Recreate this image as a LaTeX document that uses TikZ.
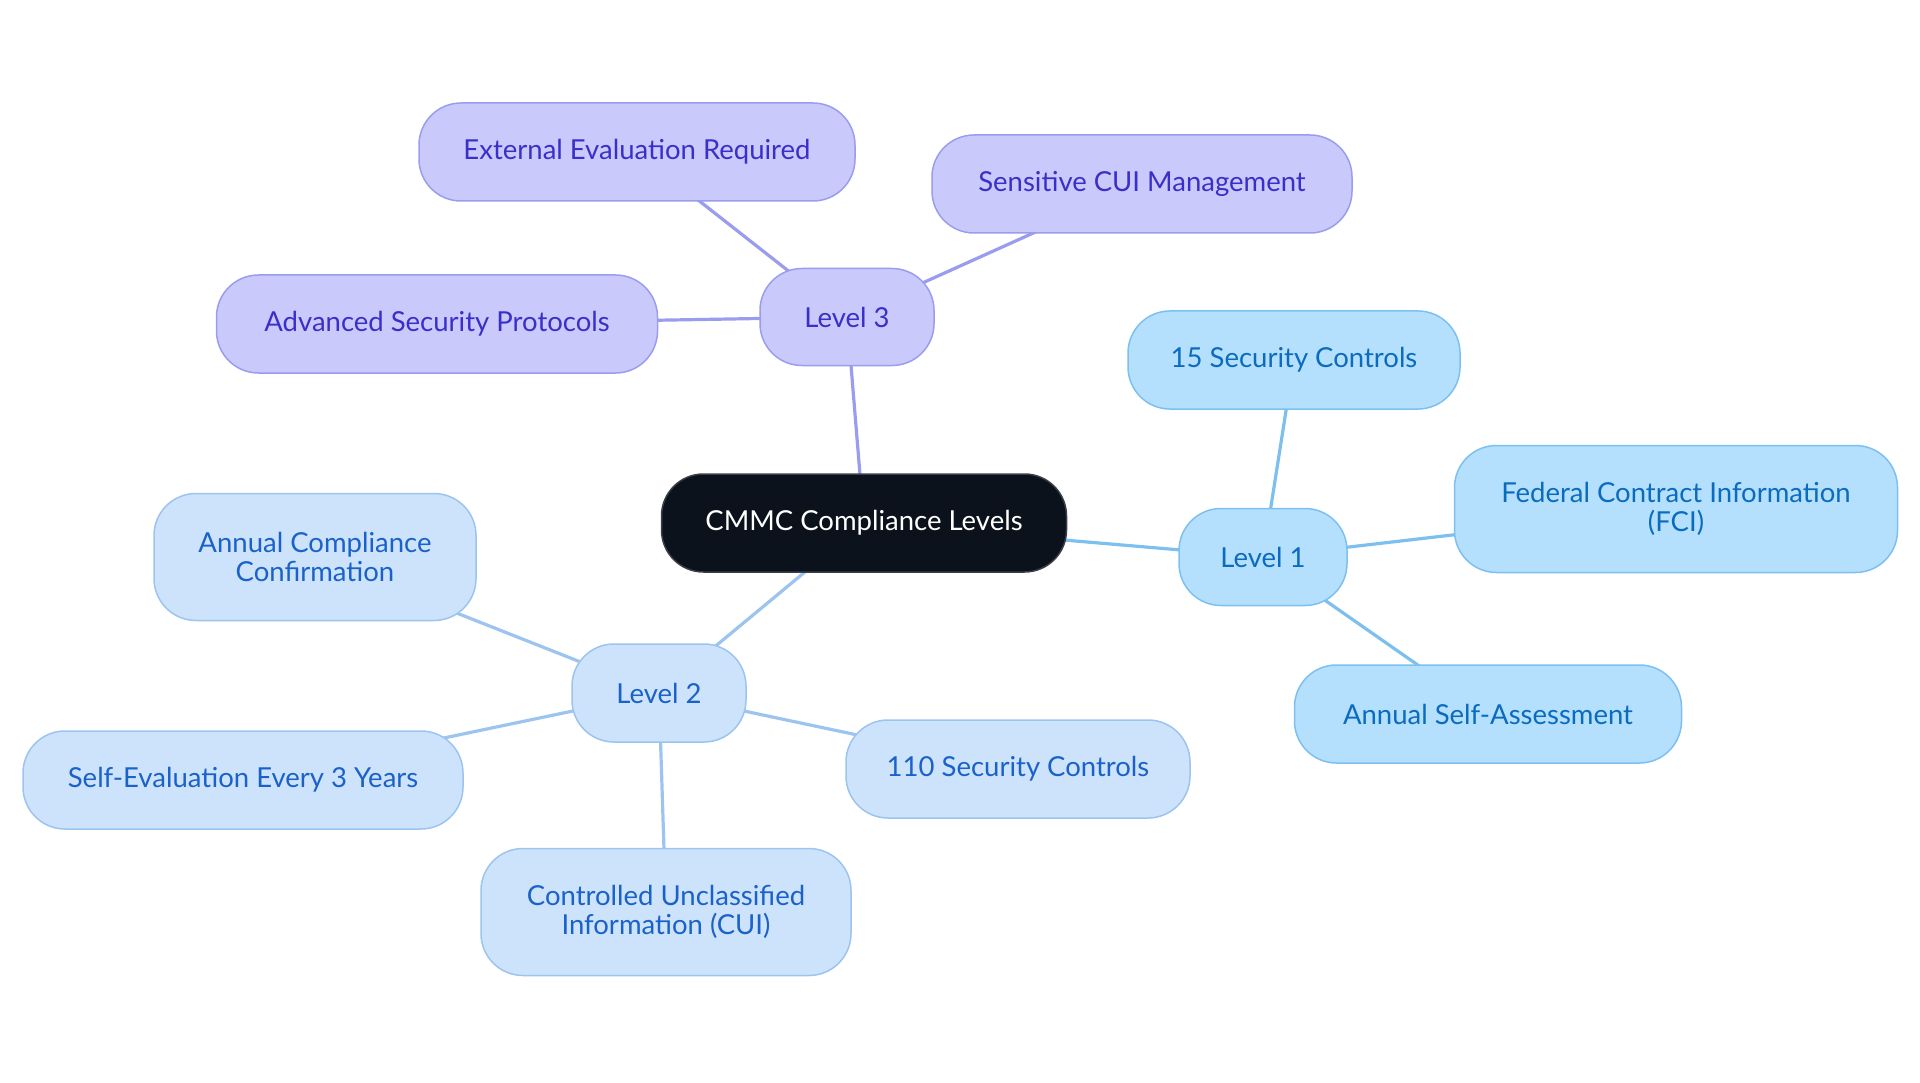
\documentclass[tikz,border=0pt]{standalone}
\usepackage{fontspec}
\setmainfont{Lato}
\usetikzlibrary{backgrounds}
\begin{document}
\begin{tikzpicture}[x=1pt,y=-1pt,
  box/.style={rounded corners=42pt, line width=1.5pt, align=center,
    font=\fontsize{27.5}{29}\selectfont, inner sep=0pt},
  root/.style={box, fill=rootfill, draw=rootline, text=white},
  lthree/.style={box, fill=lthreefill, draw=lthreeline, text=lthreetext},
  lone/.style={box, fill=lonefill, draw=loneline, text=lonetext},
  ltwo/.style={box, fill=ltwofill, draw=ltwoline, text=ltwotext},
  link/.style={line width=3.2pt}]
\definecolor{rootfill}{HTML}{0C121C}
\definecolor{rootline}{HTML}{3A3F47}
\definecolor{lthreefill}{HTML}{C9CAFB}
\definecolor{lthreeline}{HTML}{9A9CEE}
\definecolor{lthreetext}{HTML}{3A2FC9}
\definecolor{lonefill}{HTML}{B4E0FD}
\definecolor{loneline}{HTML}{7DC0F0}
\definecolor{lonetext}{HTML}{0B6BBF}
\definecolor{ltwofill}{HTML}{CDE3FB}
\definecolor{ltwoline}{HTML}{9CC4EF}
\definecolor{ltwotext}{HTML}{1A62C9}

\useasboundingbox (0,0) rectangle (1920,1083);

% hub
\node[root, minimum width=405pt, minimum height=98pt] (cmmc) at (864,523) {CMMC Compliance Levels};

% level 3 branch
\node[lthree, minimum width=174pt, minimum height=97pt] (l3) at (847,317) {Level 3};
\node[lthree, minimum width=436pt, minimum height=98pt] (ext) at (637,152) {External Evaluation Required};
\node[lthree, minimum width=420pt, minimum height=98pt] (sens) at (1142,184) {Sensitive CUI Management};
\node[lthree, minimum width=441pt, minimum height=98pt] (adv) at (437,324) {Advanced Security Protocols};

% level 1 branch
\node[lone, minimum width=168pt, minimum height=97pt] (l1) at (1263,557) {Level 1};
\node[lone, minimum width=332pt, minimum height=98pt] (fifteen) at (1294,360) {15 Security Controls};
\node[lone, minimum width=443pt, minimum height=127pt] (fci) at (1676,509) {Federal Contract Information\\(FCI)};
\node[lone, minimum width=387pt, minimum height=98pt] (selfa) at (1488,714) {Annual Self-Assessment};

% level 2 branch
\node[ltwo, minimum width=174pt, minimum height=98pt] (l2) at (659,693) {Level 2};
\node[ltwo, minimum width=322pt, minimum height=127pt] (acc) at (315,557) {Annual Compliance\\Confirmation};
\node[ltwo, minimum width=440pt, minimum height=98pt] (selfe) at (243,780) {Self-Evaluation Every 3 Years};
\node[ltwo, minimum width=370pt, minimum height=127pt] (cui) at (666,912) {Controlled Unclassified\\Information (CUI)};
\node[ltwo, minimum width=344pt, minimum height=98pt] (hundred) at (1018,769) {110 Security Controls};

% connectors run centre to centre, behind the boxes
\begin{pgfonlayer}{background}
\draw[link, lthreeline] (cmmc.center) -- (l3.center);
\draw[link, lthreeline] (l3.center) -- (ext.center);
\draw[link, lthreeline] (l3.center) -- (sens.center);
\draw[link, lthreeline] (l3.center) -- (adv.center);
\draw[link, loneline] (cmmc.center) -- (l1.center);
\draw[link, loneline] (l1.center) -- (fifteen.center);
\draw[link, loneline] (l1.center) -- (fci.center);
\draw[link, loneline] (l1.center) -- (selfa.center);
\draw[link, ltwoline] (cmmc.center) -- (l2.center);
\draw[link, ltwoline] (l2.center) -- (acc.center);
\draw[link, ltwoline] (l2.center) -- (selfe.center);
\draw[link, ltwoline] (l2.center) -- (cui.center);
\draw[link, ltwoline] (l2.center) -- (hundred.center);
\end{pgfonlayer}
\end{tikzpicture}
\end{document}
